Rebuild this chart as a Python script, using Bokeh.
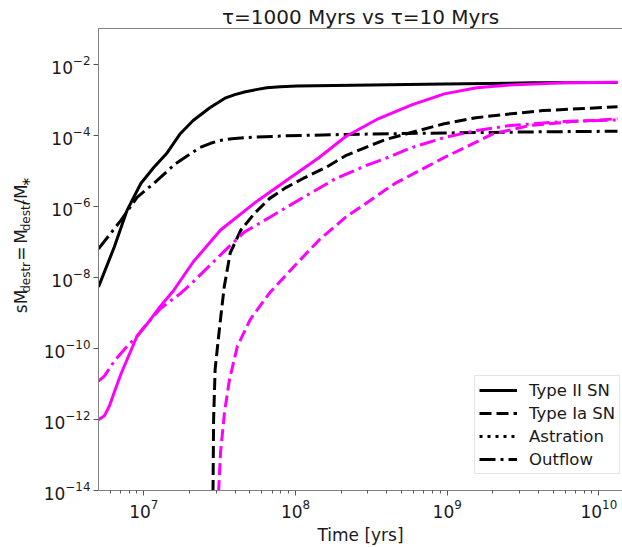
import numpy as np
from bokeh.plotting import figure
from bokeh.layouts import row
from bokeh.models import (Range1d, FixedTicker, LogTickFormatter, Legend, LegendItem, LogAxis)
from bokeh.core.properties import value
from bokeh.embed import file_html
from bokeh.resources import INLINE

# ---------------- data (log10 of time [yr], log10 of sM_destr) ----------------
# tau = 1000 Myrs (black)
t_typeII_1000 = [6.701, 6.805, 6.890, 6.980, 7.065, 7.150, 7.240, 7.325, 7.435, 7.490,
                 7.540, 7.600, 7.670, 7.740, 7.810, 7.900, 8.010, 8.500, 8.980, 9.560, 10.123]
v_typeII_1000 = [-8.27, -7.15, -6.11, -5.36, -4.91, -4.52, -3.96, -3.59, -3.23, -3.08,
                 -2.95, -2.86, -2.78, -2.72, -2.67, -2.64, -2.62, -2.59, -2.56, -2.53, -2.52]

t_typeIa_1000 = [7.454, 7.460, 7.470, 7.500, 7.530, 7.570, 7.640, 7.730, 7.830, 7.940,
                 8.050, 8.200, 8.330, 8.460, 8.590, 8.770, 8.980, 9.190, 9.420, 9.630,
                 9.900, 10.123]
v_typeIa_1000 = [-15.0, -11.99, -10.59, -9.38, -8.27, -7.31, -6.67, -6.20, -5.78, -5.47,
                 -5.22, -4.91, -4.58, -4.35, -4.13, -3.92, -3.68, -3.51, -3.40, -3.31,
                 -3.25, -3.20]

t_outflow_1000 = [6.701, 6.850, 6.955, 7.065, 7.210, 7.370, 7.440, 7.500, 7.580, 7.670,
                  7.940, 8.330, 8.980, 9.560, 10.123]
v_outflow_1000 = [-7.20, -6.39, -5.75, -5.36, -4.80, -4.35, -4.23, -4.15, -4.10, -4.07,
                  -4.02, -3.98, -3.94, -3.91, -3.89]

# tau = 10 Myrs (magenta)
t_typeII_10 = [6.701, 6.740, 6.773, 6.812, 6.851, 6.896, 6.955, 7.019, 7.097, 7.195,
               7.325, 7.506, 7.727, 7.942, 8.156, 8.331, 8.545, 8.766, 8.981, 9.195,
               9.416, 9.760, 10.123]
v_typeII_10 = [-12.01, -11.90, -11.62, -11.15, -10.70, -10.25, -9.66, -9.33, -8.88, -8.38,
               -7.57, -6.67, -5.92, -5.27, -4.63, -4.04, -3.54, -3.15, -2.84, -2.67,
               -2.59, -2.53, -2.515]

t_typeIa_10 = [7.490, 7.494, 7.506, 7.532, 7.565, 7.617, 7.701, 7.831, 7.987, 8.156,
               8.331, 8.656, 8.981, 9.305, 9.545, 9.825, 10.123]
v_typeIa_10 = [-15.0, -13.94, -12.91, -11.79, -10.87, -9.94, -9.19, -8.43, -7.71, -6.95,
               -6.31, -5.36, -4.63, -3.96, -3.73, -3.62, -3.54]

t_outflow_10 = [6.701, 6.740, 6.805, 6.890, 6.955, 7.000, 7.110, 7.240, 7.325, 7.506,
                7.662, 7.831, 8.052, 8.266, 8.481, 8.591, 8.766, 8.981, 9.195, 9.416,
                9.760, 10.123]
v_outflow_10 = [-10.92, -10.78, -10.36, -9.94, -9.66, -9.41, -8.88, -8.46, -8.13, -7.37,
                -6.73, -6.31, -5.75, -5.22, -4.83, -4.66, -4.35, -4.07, -3.87, -3.73,
                -3.62, -3.57]

# astration is zero everywhere -> nothing visible on a log axis
t_astration = [6.701, 10.123]
v_astration = [np.nan, np.nan]

x_major = [1e7, 1e8, 1e9, 1e10]
y_major = [1e-14, 1e-12, 1e-10, 1e-8, 1e-6, 1e-4, 1e-2]

legend_labels = ["Type II SN", "Type Ia SN", "Astration", "Outflow"]
title_text = "\u03c4=1000 Myrs vs \u03c4=10 Myrs"
xlabel_text = "Time [yrs]"
# y label pieces: (text, font px, subscript?)
ylabel_pieces = [("sM", 17, False), ("destr", 12, True), ("=", 17, False), ("M", 17, False),
                 ("destr", 12, True), ("/M", 17, False), ("\u2217", 12, True)]

FONT = "DejaVu Sans"
SPINE = "#808080"
TXT = "#1a1a1a"

W, H = 622, 547
LABEL_W = 40

def pw(a):
    return 10 ** np.asarray(a, dtype=float)

# ---- main plot ----
p = figure(width=W - LABEL_W, height=H, x_axis_type="log", y_axis_type="log",
           x_range=Range1d(10 ** 6.701, 10 ** 10.156), y_range=Range1d(1e-14, 1e-1),
           output_backend="svg", toolbar_location=None,
           min_border_left=89 - LABEL_W, min_border_right=0, min_border_top=28,
           min_border_bottom=55)
p.grid.visible = False
p.outline_line_color = None
p.title.text = title_text
p.title.align = "center"
p.title.text_font = FONT
p.title.text_font_size = "20px"
p.title.text_font_style = "normal"
p.title.text_color = TXT
p.title.standoff = 0

xa = p.xaxis[0]
xa.ticker = FixedTicker(ticks=x_major,
                        minor_ticks=[m * 10.0 ** e for e in range(6, 11) for m in range(2, 10)])
xa.formatter = LogTickFormatter()
xa.axis_label = xlabel_text
ya = p.yaxis[0]
ya.ticker = FixedTicker(ticks=y_major, minor_ticks=[])
ya.formatter = LogTickFormatter()

for ax in (xa, ya):
    ax.axis_line_color = SPINE
    ax.major_tick_line_color = "#555555"
    ax.minor_tick_line_color = "#555555"
    ax.major_tick_in = 0
    ax.major_tick_out = 5
    ax.minor_tick_in = 0
    ax.minor_tick_out = 3
    ax.major_label_text_font = FONT
    ax.major_label_text_font_size = "17px"
    ax.major_label_text_color = TXT
    ax.major_label_standoff = 3
    ax.axis_label_text_font = FONT
    ax.axis_label_text_font_size = "17px"
    ax.axis_label_text_font_style = "normal"
    ax.axis_label_text_color = TXT
    ax.axis_label_standoff = 4

top = LogAxis(ticker=FixedTicker(ticks=[], minor_ticks=[]), axis_line_color=SPINE,
              major_label_text_font_size="0px", major_tick_out=0, minor_tick_out=0,
              major_label_standoff=0)
p.add_layout(top, "above")

BLACK = "#000000"
MAG = "#ff00ff"
LW = 3
DASH = "12 5"
DASHDOT = "16 5 3 5"
DOT = "3 5"

r_II = p.line(pw(t_typeII_1000), pw(v_typeII_1000), line_color=BLACK, line_width=LW)
r_Ia = p.line(pw(t_typeIa_1000), pw(v_typeIa_1000), line_color=BLACK, line_width=LW, line_dash=DASH)
r_as = p.line(pw(t_astration), pw(v_astration), line_color=BLACK, line_width=LW, line_dash=DOT)
r_out = p.line(pw(t_outflow_1000), pw(v_outflow_1000), line_color=BLACK, line_width=LW, line_dash=DASHDOT)

p.line(pw(t_typeII_10), pw(v_typeII_10), line_color=MAG, line_width=LW)
p.line(pw(t_typeIa_10), pw(v_typeIa_10), line_color=MAG, line_width=LW, line_dash=DASH)
p.line(pw(t_outflow_10), pw(v_outflow_10), line_color=MAG, line_width=LW, line_dash=DASHDOT)

legend = Legend(items=[LegendItem(label=l, renderers=[r]) for l, r in
                       zip(legend_labels, [r_II, r_Ia, r_as, r_out])],
                location=(376, 16), margin=0, padding=4, spacing=3,
                glyph_width=38, glyph_height=20, label_height=20, label_standoff=12,
                label_text_font=FONT, label_text_font_size="16.5px", label_text_color=TXT,
                border_line_color="#cccccc", border_line_width=1,
                background_fill_color="white", background_fill_alpha=0.8)
p.add_layout(legend)

# ---- y label strip (rotated, with subscripts) ----
lf = figure(width=LABEL_W, height=H, x_range=Range1d(0, LABEL_W), y_range=Range1d(0, H),
            title=None, output_backend="svg", toolbar_location=None, min_border=0,
            min_border_left=0, min_border_right=0, min_border_top=0, min_border_bottom=0,
            x_axis_location=None, y_axis_location=None)
lf.grid.visible = False
lf.outline_line_color = None

widths = {"sM": 23.5, "destr": 30.9, "=": 14.3, "M": 14.7, "/M": 20.4, "\u2217": 6.0}
gaps_after = [0.5, 7.0, 6.0, 0, 0.5, 0.5, 0]
ypos = 210.0
for (txt, fs, sub), gap in zip(ylabel_pieces, gaps_after):
    lf.text(x=[25.5 if sub else 20.0], y=[ypos], text=[txt], angle=np.pi / 2,
            text_align="left", text_baseline="middle", text_font=value(FONT),
            text_font_size=value(f"{fs}px"), text_color=TXT)
    ypos += widths[txt] + gap

layout = row(lf, p)
open("out.html", "w").write(file_html(layout, INLINE))
